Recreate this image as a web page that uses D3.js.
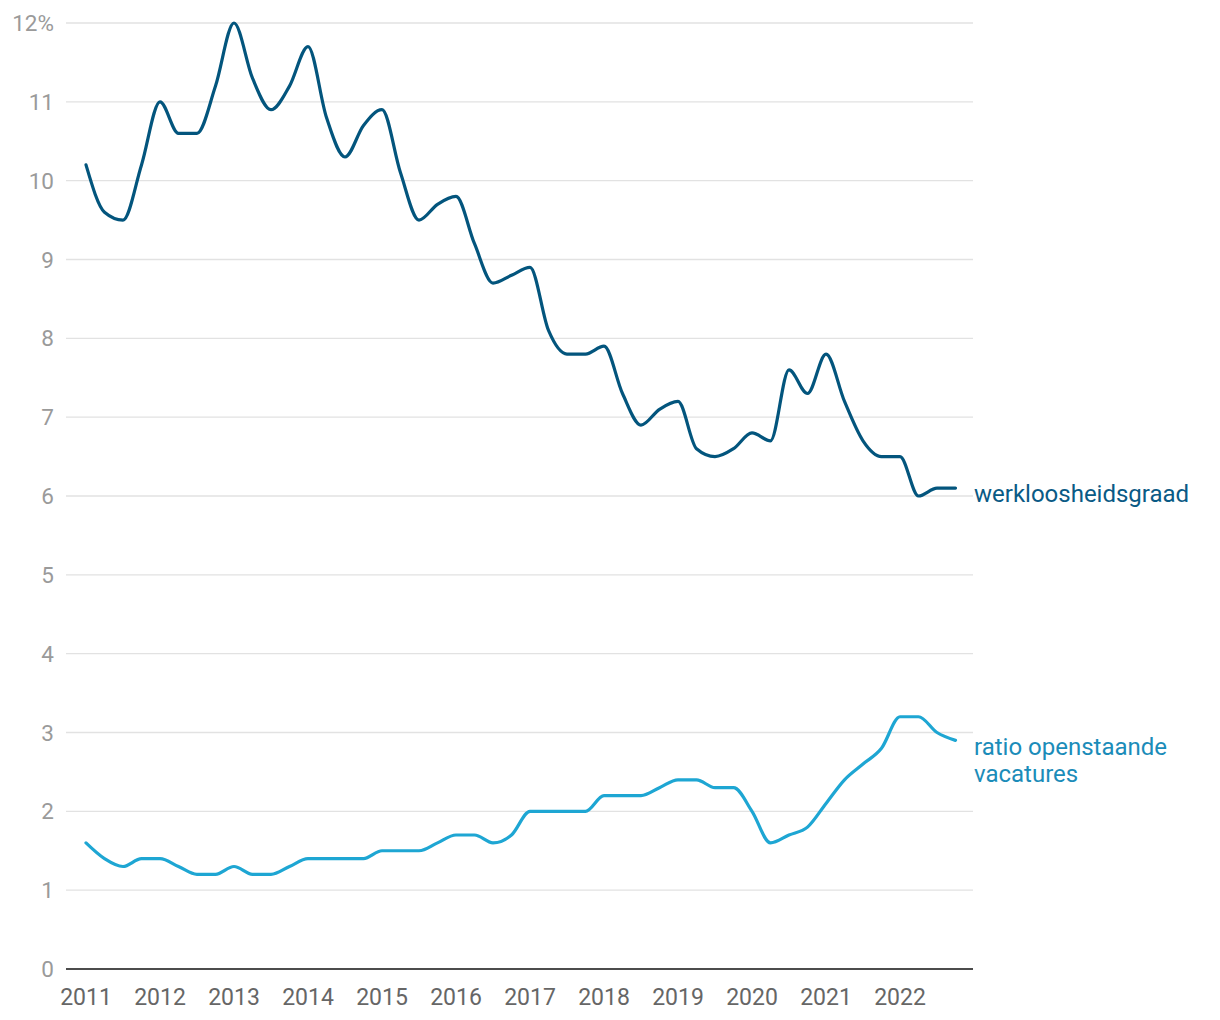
<!DOCTYPE html>
<html>
<head>
<meta charset="utf-8">
<script src="https://cdn.jsdelivr.net/npm/d3@7/dist/d3.min.js"></script>
<style>
  body { margin: 0; background: #fff; }
  svg { display: block; font-family: Roboto, "Noto Sans", sans-serif; }
</style>
</head>
<body>
<svg id="chart" width="1220" height="1020"></svg>
<script>
// Quarterly data, 2011 Q1 – 2022 Q4
const years = [2011, 2012, 2013, 2014, 2015, 2016, 2017, 2018, 2019, 2020, 2021, 2022];
const yTicks = [0, 1, 2, 3, 4, 5, 6, 7, 8, 9, 10, 11, 12];
const werkloosheidsgraad = [
  10.2, 9.6, 9.5, 10.2,
  11.0, 10.6, 10.6, 11.2,
  12.0, 11.3, 10.9, 11.2,
  11.7, 10.8, 10.3, 10.7,
  10.9, 10.1, 9.5, 9.7,
  9.8, 9.2, 8.7, 8.8,
  8.9, 8.1, 7.8, 7.8,
  7.9, 7.3, 6.9, 7.1,
  7.2, 6.6, 6.5, 6.6,
  6.8, 6.7, 7.6, 7.3,
  7.8, 7.2, 6.7, 6.5,
  6.5, 6.0, 6.1, 6.1
];
const vacatureRatio = [
  1.6, 1.4, 1.3, 1.4,
  1.4, 1.3, 1.2, 1.2,
  1.3, 1.2, 1.2, 1.3,
  1.4, 1.4, 1.4, 1.4,
  1.5, 1.5, 1.5, 1.6,
  1.7, 1.7, 1.6, 1.7,
  2.0, 2.0, 2.0, 2.0,
  2.2, 2.2, 2.2, 2.3,
  2.4, 2.4, 2.3, 2.3,
  2.0, 1.6, 1.7, 1.8,
  2.1, 2.4, 2.6, 2.8,
  3.2, 3.2, 3.0, 2.9
];
const seriesNames = ["werkloosheidsgraad", ["ratio openstaande", "vacatures"]];

(function () {
const svg = d3.select("#chart");
const pLeft = 66, pRight = 973, pTop = 23, pBottom = 969;

// time index in years (quarter = 0.25)
const t = i => years[0] + i * 0.25;
const x = d3.scaleLinear().domain([2011, 2022]).range([86, 900]);
const y = d3.scaleLinear().domain([0, 12]).range([pBottom, pTop]);

// gridlines
svg.append("g").selectAll("line")
  .data(yTicks.filter(d => d > 0))
  .join("line")
  .attr("x1", pLeft).attr("x2", pRight)
  .attr("y1", d => y(d)).attr("y2", d => y(d))
  .attr("stroke", "#e2e2e2").attr("stroke-width", 1.3);

// y tick labels
svg.append("g").selectAll("text")
  .data(yTicks)
  .join("text")
  .attr("x", 54).attr("y", d => y(d) + 8)
  .attr("text-anchor", "end")
  .attr("font-size", 22.5)
  .attr("fill", "#9a9a9a")
  .text(d => d === 12 ? "12%" : d);

// x axis baseline
svg.append("line")
  .attr("x1", pLeft).attr("x2", pRight)
  .attr("y1", y(0)).attr("y2", y(0))
  .attr("stroke", "#111").attr("stroke-width", 1.6);

// x labels
svg.append("g").selectAll("text")
  .data(years)
  .join("text")
  .attr("x", d => x(d)).attr("y", 1005)
  .attr("text-anchor", "middle")
  .attr("font-size", 23)
  .attr("fill", "#666")
  .text(d => d);

const line = d3.line()
  .x((d, i) => x(t(i)))
  .y(d => y(d))
  .curve(d3.curveMonotoneX);

svg.append("path")
  .datum(vacatureRatio)
  .attr("fill", "none")
  .attr("stroke", "#1ea6d3")
  .attr("stroke-width", 3.2)
  .attr("stroke-linejoin", "round")
  .attr("stroke-linecap", "round")
  .attr("d", line);

svg.append("path")
  .datum(werkloosheidsgraad)
  .attr("fill", "none")
  .attr("stroke", "#03557d")
  .attr("stroke-width", 3.2)
  .attr("stroke-linejoin", "round")
  .attr("stroke-linecap", "round")
  .attr("d", line);

// labels
svg.append("text")
  .attr("x", 974).attr("y", y(werkloosheidsgraad[werkloosheidsgraad.length - 1]) + 14)
  .attr("font-size", 24)
  .attr("fill", "#0a5a85")
  .text(seriesNames[0]);

const lbl = svg.append("text")
  .attr("x", 974).attr("y", y(vacatureRatio[vacatureRatio.length - 1]) + 14.5)
  .attr("font-size", 24)
  .attr("fill", "#1b8cb9");
lbl.selectAll("tspan").data(seriesNames[1]).join("tspan")
  .attr("x", 974)
  .attr("dy", (d, i) => i === 0 ? 0 : 27)
  .text(d => d);
})();
</script>
</body>
</html>
